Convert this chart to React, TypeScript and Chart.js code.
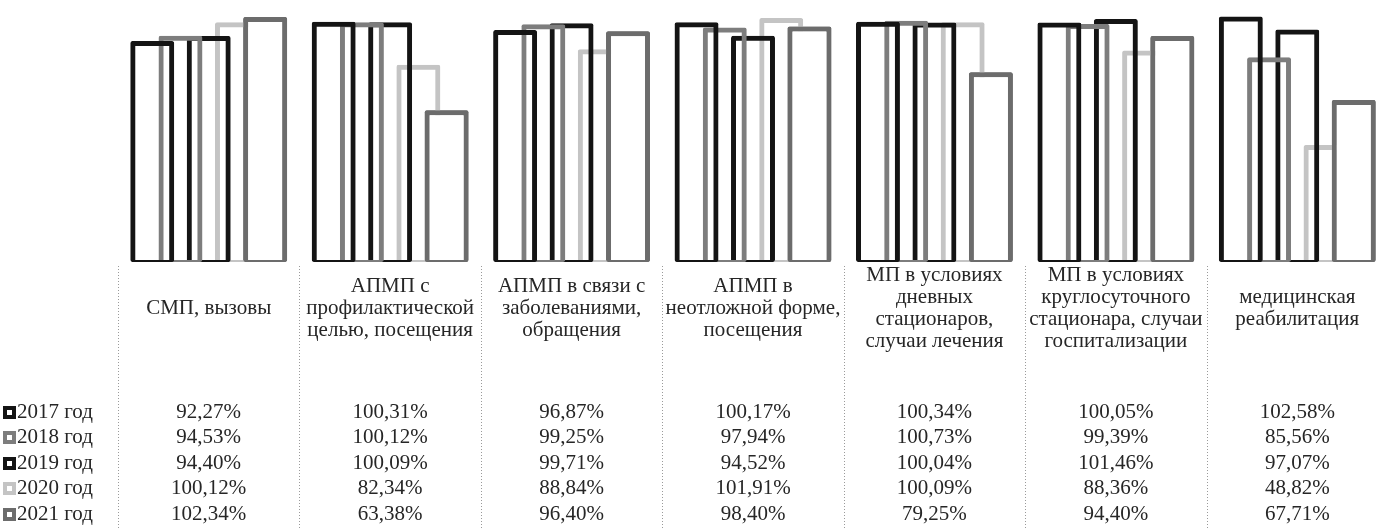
import { useEffect, useRef } from "react";
import { Chart, registerables } from "chart.js";

Chart.register(...registerables);

// Categories (multi-line header cells of the data table)
const categories: string[][] = [
  ["СМП, вызовы"],
  ["АПМП с", "профилактической", "целью, посещения"],
  ["АПМП в связи с", "заболеваниями,", "обращения"],
  ["АПМП в", "неотложной форме,", "посещения"],
  ["МП в условиях", "дневных", "стационаров,", "случаи лечения"],
  ["МП в условиях", "круглосуточного", "стационара, случаи", "госпитализации"],
  ["медицинская", "реабилитация"],
];

const seriesNames = ["2017 год", "2018 год", "2019 год", "2020 год", "2021 год"];

const values2017 = [92.27, 100.31, 96.87, 100.17, 100.34, 100.05, 102.58];
const values2018 = [94.53, 100.12, 99.25, 97.94, 100.73, 99.39, 85.56];
const values2019 = [94.4, 100.09, 99.71, 94.52, 100.04, 101.46, 97.07];
const values2020 = [100.12, 82.34, 88.84, 101.91, 100.09, 88.36, 48.82];
const values2021 = [102.34, 63.38, 96.4, 98.4, 79.25, 94.4, 67.71];

const seriesValues = [values2017, values2018, values2019, values2020, values2021];
const seriesColors = ["#141414", "#7d7d7d", "#141414", "#c4c4c4", "#6c6c6c"];

const CANVAS_W = 1388;
const CANVAS_H = 530;
const FONT = "21px 'Liberation Serif', 'Times New Roman', serif";
const TEXT_COLOR = "#262626";
const HEADER_CENTER = 308;
const HEADER_LINE = 22;
const ROW_START = 412;
const ROW_STEP = 25.5;
const TABLE_TOP = 266;

const formatPct = (v: number) => v.toFixed(2).replace(".", ",") + "%";

// The newest series sits in front of the others with an opaque fill
const frontSeriesPlugin = {
  id: "frontSeries",
  afterDatasetsDraw(chart: any) {
    const meta = chart.getDatasetMeta(seriesValues.length - 1);
    meta.data.forEach((el: any) => el.draw(chart.ctx));
  },
};

// Data table below the plot: category headers, legend keys and values
const dataTablePlugin = {
  id: "dataTable",
  afterDraw(chart: any) {
    const ctx: CanvasRenderingContext2D = chart.ctx;
    const xs = chart.scales.x;
    const step = xs.getPixelForValue(1) - xs.getPixelForValue(0);
    const h = chart.height;

    ctx.save();
    // dotted column separators
    ctx.strokeStyle = "#9a9a9a";
    ctx.lineWidth = 1;
    ctx.setLineDash([1, 2]);
    for (let i = 0; i < categories.length; i++) {
      const bx = Math.round(xs.getPixelForValue(i) - step / 2) + 0.5;
      ctx.beginPath();
      ctx.moveTo(bx, TABLE_TOP);
      ctx.lineTo(bx, h);
      ctx.stroke();
    }
    ctx.setLineDash([]);

    ctx.font = FONT;
    ctx.fillStyle = TEXT_COLOR;
    ctx.textBaseline = "middle";
    ctx.textAlign = "center";

    categories.forEach((lines, i) => {
      const cx = xs.getPixelForValue(i);
      lines.forEach((line, j) => {
        const y = HEADER_CENTER + (j - (lines.length - 1) / 2) * HEADER_LINE;
        ctx.fillText(line, cx, y);
      });
      seriesValues.forEach((vals, s) => {
        ctx.fillText(formatPct(vals[i]), cx, ROW_START + s * ROW_STEP);
      });
    });

    // legend keys
    seriesNames.forEach((name, s) => {
      const y = ROW_START + s * ROW_STEP;
      const k = 13;
      const kx = 3;
      const ky = Math.round(y - k / 2);
      ctx.fillStyle = seriesColors[s];
      ctx.fillRect(kx, ky, k, k);
      ctx.fillStyle = "#ffffff";
      ctx.fillRect(kx + 4, ky + 4, k - 8, k - 8);
      ctx.fillStyle = TEXT_COLOR;
      ctx.textAlign = "left";
      ctx.fillText(name, kx + k + 1, y);
    });
    ctx.restore();
  },
};

export default function App() {
  const canvasRef = useRef<HTMLCanvasElement | null>(null);

  useEffect(() => {
    if (!canvasRef.current) return;
    const chart = new Chart(canvasRef.current, {
      type: "bar",
      data: {
        labels: categories.map((c) => c.join(" ")),
        datasets: seriesNames.map((name, s) => ({
          label: name,
          data: seriesValues[s],
          borderColor: seriesColors[s],
          backgroundColor: s === seriesValues.length - 1 ? "#ffffff" : "rgba(0,0,0,0)",
          borderWidth: { top: 5, left: 5, right: 5, bottom: 2 },
          borderSkipped: false,
          borderRadius: 2,
        })),
      },
      options: {
        animation: false,
        responsive: false,
        devicePixelRatio: 1,
        layout: { padding: { left: 118, right: 0, top: 10.6, bottom: 268 } },
        datasets: { bar: { categoryPercentage: 0.778, barPercentage: 1.557 } },
        plugins: { legend: { display: false }, tooltip: { enabled: false } },
        scales: {
          x: { display: false, offset: true },
          y: { display: false, min: 0, max: 105 },
        },
      },
      plugins: [frontSeriesPlugin, dataTablePlugin],
    });
    return () => chart.destroy();
  }, []);

  return (
    <div
      style={{
        position: "fixed",
        left: 0,
        top: 0,
        width: 1378,
        height: 530,
        overflow: "hidden",
        background: "#fff",
      }}
    >
      <canvas ref={canvasRef} width={CANVAS_W} height={CANVAS_H} style={{ display: "block" }} />
    </div>
  );
}
